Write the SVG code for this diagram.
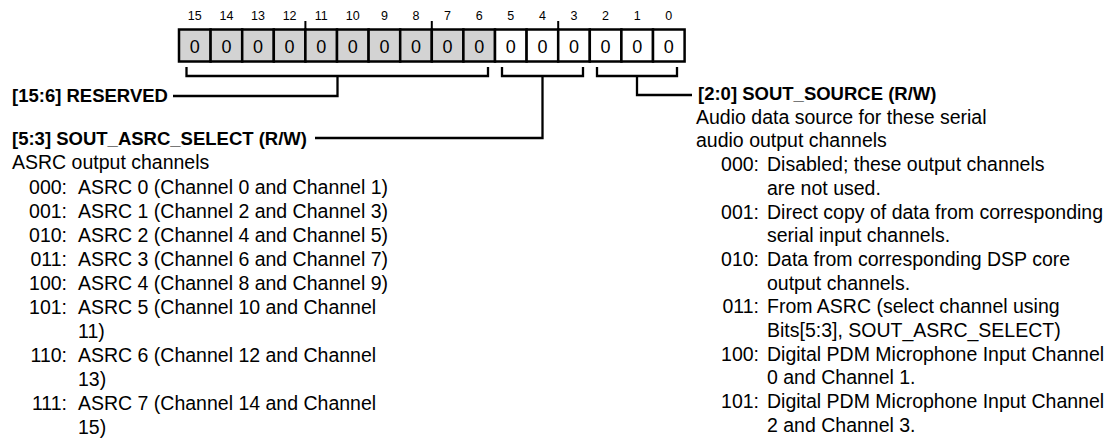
<svg xmlns="http://www.w3.org/2000/svg" width="1110" height="446" viewBox="0 0 1110 446">
<style>
.bg{fill:#fff}
.cell{stroke:#000;stroke-width:2.5}
.res{fill:#d3d3d3}
.rw{fill:#fff}
.bit{font-family:"Liberation Sans",Arial,sans-serif;font-size:12.5px;fill:#000;text-anchor:middle}
.val{font-family:"Liberation Sans",Arial,sans-serif;font-size:18px;fill:#000;text-anchor:middle}
.head{font-family:"Liberation Sans",Arial,sans-serif;font-size:18.5px;font-weight:bold;fill:#000}
.txt{font-family:"Liberation Sans",Arial,sans-serif;font-size:19.5px;fill:#000}
.code{text-anchor:end}
.conn{fill:none;stroke:#000;stroke-width:2.3}
.tick{stroke:#000;stroke-width:2}
</style>
<rect class="bg" x="0" y="0" width="1110" height="446"/>
<g id="register">
  <g id="bit-labels">
    <text class="bit" x="194.8" y="20">15</text>
    <text class="bit" x="226.4" y="20">14</text>
    <text class="bit" x="258" y="20">13</text>
    <text class="bit" x="289.6" y="20">12</text>
    <text class="bit" x="321.2" y="20">11</text>
    <text class="bit" x="352.8" y="20">10</text>
    <text class="bit" x="384.4" y="20">9</text>
    <text class="bit" x="416" y="20">8</text>
    <text class="bit" x="447.6" y="20">7</text>
    <text class="bit" x="479.2" y="20">6</text>
    <text class="bit" x="510.8" y="20">5</text>
    <text class="bit" x="542.4" y="20">4</text>
    <text class="bit" x="574" y="20">3</text>
    <text class="bit" x="605.6" y="20">2</text>
    <text class="bit" x="637.2" y="20">1</text>
    <text class="bit" x="668.8" y="20">0</text>
  </g>
  <g id="cells">
    <rect class="cell res" x="179" y="29.5" width="31.6" height="32"/>
    <rect class="cell res" x="210.6" y="29.5" width="31.6" height="32"/>
    <rect class="cell res" x="242.2" y="29.5" width="31.6" height="32"/>
    <rect class="cell res" x="273.8" y="29.5" width="31.6" height="32"/>
    <rect class="cell res" x="305.4" y="29.5" width="31.6" height="32"/>
    <rect class="cell res" x="337" y="29.5" width="31.6" height="32"/>
    <rect class="cell res" x="368.6" y="29.5" width="31.6" height="32"/>
    <rect class="cell res" x="400.2" y="29.5" width="31.6" height="32"/>
    <rect class="cell res" x="431.8" y="29.5" width="31.6" height="32"/>
    <rect class="cell res" x="463.4" y="29.5" width="31.6" height="32"/>
    <rect class="cell rw" x="495" y="29.5" width="31.6" height="32"/>
    <rect class="cell rw" x="526.6" y="29.5" width="31.6" height="32"/>
    <rect class="cell rw" x="558.2" y="29.5" width="31.6" height="32"/>
    <rect class="cell rw" x="589.8" y="29.5" width="31.6" height="32"/>
    <rect class="cell rw" x="621.4" y="29.5" width="31.6" height="32"/>
    <rect class="cell rw" x="653" y="29.5" width="31.6" height="32"/>
  </g>
  <g id="values">
    <text class="val" x="194.8" y="52.5">0</text>
    <text class="val" x="226.4" y="52.5">0</text>
    <text class="val" x="258" y="52.5">0</text>
    <text class="val" x="289.6" y="52.5">0</text>
    <text class="val" x="321.2" y="52.5">0</text>
    <text class="val" x="352.8" y="52.5">0</text>
    <text class="val" x="384.4" y="52.5">0</text>
    <text class="val" x="416" y="52.5">0</text>
    <text class="val" x="447.6" y="52.5">0</text>
    <text class="val" x="479.2" y="52.5">0</text>
    <text class="val" x="510.8" y="52.5">0</text>
    <text class="val" x="542.4" y="52.5">0</text>
    <text class="val" x="574" y="52.5">0</text>
    <text class="val" x="605.6" y="52.5">0</text>
    <text class="val" x="637.2" y="52.5">0</text>
    <text class="val" x="668.8" y="52.5">0</text>
  </g>
  <g id="nibble-ticks">
    <line class="tick" x1="305.4" y1="21" x2="305.4" y2="29"/>
    <line class="tick" x1="431.8" y1="21" x2="431.8" y2="29"/>
    <line class="tick" x1="558.2" y1="21" x2="558.2" y2="29"/>
  </g>
</g>
<g id="connectors">
  <path class="conn" d="M186.5,67 V76 H488 V67"/>
  <path class="conn" d="M337.5,76 V96 H173"/>
  <path class="conn" d="M502,67 V76 H583 V67"/>
  <path class="conn" d="M542.5,76 V138 H315"/>
  <path class="conn" d="M597,67 V76 H677 V67"/>
  <path class="conn" d="M637,76 V95 H692"/>
</g>
<g id="field-reserved">
  <text class="head" x="12" y="101.6">[15:6] RESERVED</text>
</g>
<g id="field-sout-asrc-select">
  <text class="head" x="12" y="144.6">[5:3] SOUT_ASRC_SELECT (R/W)</text>
  <text class="txt" x="12" y="169">ASRC output channels</text>
  <text class="txt code" x="67" y="194">000:</text><text class="txt" x="78" y="194">ASRC 0 (Channel 0 and Channel 1)</text>
  <text class="txt code" x="67" y="218">001:</text><text class="txt" x="78" y="218">ASRC 1 (Channel 2 and Channel 3)</text>
  <text class="txt code" x="67" y="242">010:</text><text class="txt" x="78" y="242">ASRC 2 (Channel 4 and Channel 5)</text>
  <text class="txt code" x="67" y="266">011:</text><text class="txt" x="78" y="266">ASRC 3 (Channel 6 and Channel 7)</text>
  <text class="txt code" x="67" y="290">100:</text><text class="txt" x="78" y="290">ASRC 4 (Channel 8 and Channel 9)</text>
  <text class="txt code" x="67" y="314">101:</text><text class="txt" x="78" y="314">ASRC 5 (Channel 10 and Channel</text>
  <text class="txt" x="78" y="338">11)</text>
  <text class="txt code" x="67" y="362">110:</text><text class="txt" x="78" y="362">ASRC 6 (Channel 12 and Channel</text>
  <text class="txt" x="78" y="386">13)</text>
  <text class="txt code" x="67" y="410">111:</text><text class="txt" x="78" y="410">ASRC 7 (Channel 14 and Channel</text>
  <text class="txt" x="78" y="434">15)</text>
</g>
<g id="field-sout-source">
  <text class="head" x="698" y="100">[2:0] SOUT_SOURCE (R/W)</text>
  <text class="txt" x="696" y="123.7">Audio data source for these serial</text>
  <text class="txt" x="696" y="147.4">audio output channels</text>
  <text class="txt code" x="759" y="171.1">000:</text><text class="txt" x="767" y="171.1">Disabled; these output channels</text>
  <text class="txt" x="767" y="194.8">are not used.</text>
  <text class="txt code" x="759" y="218.5">001:</text><text class="txt" x="767" y="218.5">Direct copy of data from corresponding</text>
  <text class="txt" x="767" y="242.2">serial input channels.</text>
  <text class="txt code" x="759" y="265.9">010:</text><text class="txt" x="767" y="265.9">Data from corresponding DSP core</text>
  <text class="txt" x="767" y="289.6">output channels.</text>
  <text class="txt code" x="759" y="313.3">011:</text><text class="txt" x="767" y="313.3">From ASRC (select channel using</text>
  <text class="txt" x="767" y="337">Bits[5:3], SOUT_ASRC_SELECT)</text>
  <text class="txt code" x="759" y="360.7">100:</text><text class="txt" x="767" y="360.7">Digital PDM Microphone Input Channel</text>
  <text class="txt" x="767" y="384.4">0 and Channel 1.</text>
  <text class="txt code" x="759" y="408.1">101:</text><text class="txt" x="767" y="408.1">Digital PDM Microphone Input Channel</text>
  <text class="txt" x="767" y="431.8">2 and Channel 3.</text>
</g>
</svg>
